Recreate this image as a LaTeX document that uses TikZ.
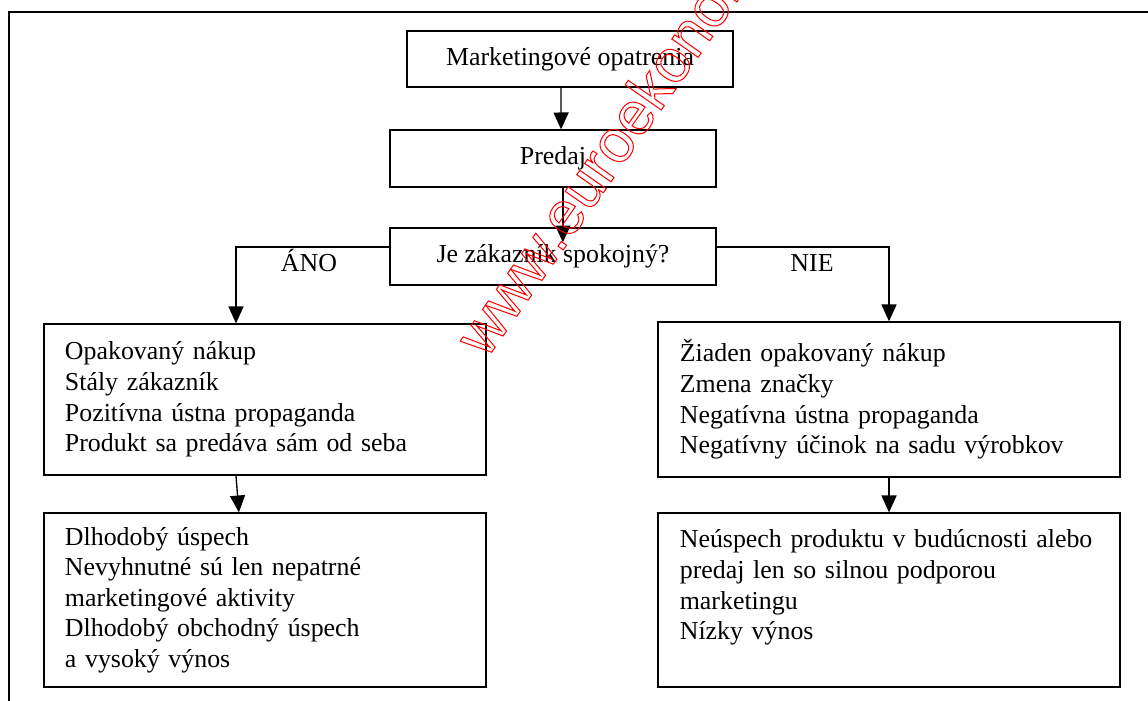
\documentclass[tikz,border=0pt]{standalone}
\usepackage{fontspec}
\setmainfont{Liberation Serif}
\setsansfont{Liberation Sans}
\usetikzlibrary{positioning, calc, arrows.meta}
% Umrisové písmo (len obrys)
\newcommand{\obrys}[1]{\special{pdf:literal direct 1 Tr 0.45 w}#1\special{pdf:literal direct 0 Tr}}

\begin{document}
\begin{tikzpicture}[x=0.4444pt, y=-0.4444pt,
            box/.style={rectangle, draw=black, line width=0.6pt, inner sep=0pt, minimum width=144.9pt, minimum height=25.3pt, font=\fontsize{11.5}{13.6}\selectfont},
            listbox/.style={box, align=left, inner xsep=9.3pt, text width=177.8pt, minimum width=196.4pt},
            rlistbox/.style={listbox, inner xsep=9.7pt, text width=185.9pt, minimum width=205.3pt},
            arr/.style={line width=0.6pt, -{Triangle[length=7.5pt, width=6.7pt]}},
            lbl/.style={font=\fontsize{11.5}{13.6}\selectfont, anchor=base},
            wmark/.style={text=red, anchor=base west, rotate=55, font=\sffamily\fontsize{27}{27}\selectfont}
        ]
            \useasboundingbox (0,0) rectangle (1148,700);

            % --- 外枠 ---
            \draw[line width=0.7pt] (9,720) -- (9,12) -- (1160,12);

            % --- ノード配置 ---
            \node[box, minimum height=24.9pt] (opatrenia) at (570,59) {Marketingové opatrenia};
            \node[box] (predaj) at (553,158.5) {Predaj};
            \node[box] (otazka) at (553,256.5) {Je zákazník spokojný?};

            \node[listbox, minimum height=67.1pt] (ano) at (265,399.5) {Opakovaný nákup\\Stály zákazník\\Pozitívna ústna propaganda\\Produkt sa predáva sám od seba};
            \node[rlistbox, minimum height=68.9pt] (nie) at (889,399.5) {Žiaden opakovaný nákup\\Zmena značky\\Negatívna ústna propaganda\\Negatívny účinok na sadu výrobkov};

            \node[listbox, minimum height=77.3pt] (uspech) at (265,600) {Dlhodobý úspech\\Nevyhnutné sú len nepatrné\\marketingové aktivity\\Dlhodobý obchodný úspech\\a vysoký výnos};
            \node[rlistbox, minimum height=77.3pt] (neuspech) at (889,600) {\mbox{Neúspech produktu v budúcnosti alebo}\\predaj len so silnou podporou\\marketingu\\Nízky výnos\\\mbox{}};

            % --- 矢印 ---
            \draw[arr] ([xshift=-4pt]opatrenia.south) -- ([xshift=3.6pt]predaj.north);
            \draw[arr] ([xshift=4.4pt]predaj.south) -- ([xshift=4.4pt, yshift=-6.7pt]otazka.north);

            \coordinate (anoroh) at (236,247);
            \coordinate (nieroh) at (889,247);
            \draw[arr] (otazka.west |- anoroh) -- (anoroh) -- (anoroh |- ano.north);
            \draw[arr] (otazka.east |- nieroh) -- (nieroh) -- (nie.north);

            \node[lbl] (anotext) at (309,271) {ÁNO};
            \node[lbl] (nietext) at (812,271) {NIE};

            \draw[arr] ([xshift=-12.9pt]ano.south) -- ([xshift=-11.6pt]uspech.north);
            \draw[arr] (nie.south) -- (neuspech.north);

            % --- 透かし ---
            \node[wmark] (web) at (482,366) {\obrys{www.euroekonom.sk}};
        \end{tikzpicture}
\end{document}
